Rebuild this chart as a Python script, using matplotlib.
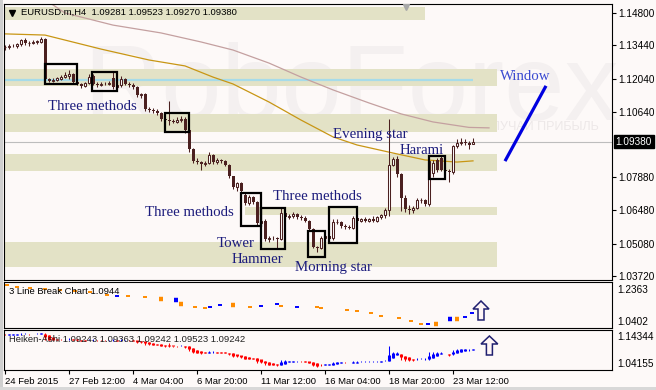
import matplotlib
matplotlib.use("Agg")
import matplotlib.pyplot as plt
import numpy as np
from matplotlib.patches import Rectangle, FancyArrow
from matplotlib.transforms import blended_transform_factory

plt.rcParams['font.family'] = ['Liberation Sans', 'DejaVu Sans']

# EURUSD H4 candles, 24 Feb 20:00 .. 23 Mar 2015
opens = [1.1335, 1.1338, 1.1342, 1.1340, 1.1348, 1.1366, 1.1352, 1.1355, 1.1358, 1.1358,
         1.1372, 1.1200, 1.1195, 1.1198, 1.1203, 1.1210, 1.1215, 1.1225, 1.1188, 1.1180,
         1.1172, 1.1185, 1.1215, 1.1182, 1.1178, 1.1182, 1.1180, 1.1205, 1.1168, 1.1178,
         1.1200, 1.1182, 1.1178, 1.1168, 1.1135, 1.1140, 1.1075, 1.1070, 1.1068, 1.1058,
         1.1032, 1.1030, 1.1025, 1.1022, 1.1030, 1.1035, 1.0985, 1.0905, 1.0858, 1.0852,
         1.0842, 1.0848, 1.0880, 1.0852, 1.0860, 1.0855, 1.0840, 1.0792, 1.0748, 1.0762,
         1.0715, 1.0678, 1.0705, 1.0682, 1.0595, 1.0605, 1.0527, 1.0532, 1.0530, 1.0528,
         1.0638, 1.0620, 1.0625, 1.0632, 1.0620, 1.0615, 1.0605, 1.0572, 1.0495, 1.0492,
         1.0530, 1.0540, 1.0530, 1.0598, 1.0600, 1.0582, 1.0578, 1.0575, 1.0615, 1.0605,
         1.0612, 1.0605, 1.0614, 1.0605, 1.0620, 1.0628, 1.0650, 1.0840, 1.0865, 1.0800,
         1.0700, 1.0655, 1.0648, 1.0660, 1.0692, 1.0694, 1.0675, 1.0805, 1.0862, 1.0870,
         1.0820, 1.0815, 1.0810, 1.0920, 1.0932, 1.0938, 1.0932, 1.0928]
highs = [1.1345, 1.1348, 1.1350, 1.1352, 1.1372, 1.1375, 1.1362, 1.1365, 1.1368, 1.1378,
         1.1376, 1.1208, 1.1205, 1.1212, 1.1220, 1.1232, 1.1240, 1.1228, 1.1195, 1.1185,
         1.1190, 1.1222, 1.1225, 1.1190, 1.1188, 1.1190, 1.1192, 1.1232, 1.1190, 1.1215,
         1.1205, 1.1190, 1.1185, 1.1172, 1.1145, 1.1145, 1.1085, 1.1080, 1.1075, 1.1062,
         1.1040, 1.1110, 1.1035, 1.1040, 1.1048, 1.1040, 1.0990, 1.0910, 1.0868, 1.0858,
         1.0855, 1.0895, 1.0885, 1.0868, 1.0865, 1.0860, 1.0842, 1.0795, 1.0770, 1.0768,
         1.0722, 1.0712, 1.0710, 1.0688, 1.0612, 1.0610, 1.0540, 1.0542, 1.0538, 1.0660,
         1.0645, 1.0632, 1.0640, 1.0636, 1.0630, 1.0625, 1.0608, 1.0575, 1.0500, 1.0540,
         1.0548, 1.0545, 1.0610, 1.0610, 1.0605, 1.0590, 1.0585, 1.0625, 1.0625, 1.0618,
         1.0620, 1.0618, 1.0625, 1.0625, 1.0635, 1.0660, 1.1035, 1.0875, 1.0878, 1.0805,
         1.0712, 1.0672, 1.0668, 1.0700, 1.0700, 1.0698, 1.0865, 1.0860, 1.0868, 1.0880,
         1.0830, 1.0822, 1.0925, 1.0950, 1.0955, 1.0950, 1.0940, 1.0952]
lows = [1.1325, 1.1330, 1.1335, 1.1333, 1.1340, 1.1345, 1.1340, 1.1348, 1.1350, 1.1352,
        1.1185, 1.1188, 1.1190, 1.1192, 1.1198, 1.1205, 1.1200, 1.1180, 1.1175, 1.1165,
        1.1168, 1.1180, 1.1178, 1.1170, 1.1172, 1.1175, 1.1176, 1.1160, 1.1160, 1.1170,
        1.1175, 1.1170, 1.1160, 1.1125, 1.1120, 1.1065, 1.1062, 1.1060, 1.1052, 1.1025,
        1.1015, 1.1010, 1.1015, 1.1018, 1.1022, 1.0975, 1.0895, 1.0850, 1.0845, 1.0820,
        1.0835, 1.0842, 1.0845, 1.0845, 1.0848, 1.0835, 1.0785, 1.0740, 1.0728, 1.0722,
        1.0672, 1.0672, 1.0675, 1.0588, 1.0588, 1.0520, 1.0515, 1.0522, 1.0486, 1.0522,
        1.0612, 1.0610, 1.0615, 1.0612, 1.0608, 1.0598, 1.0565, 1.0488, 1.0475, 1.0485,
        1.0515, 1.0520, 1.0525, 1.0590, 1.0575, 1.0570, 1.0568, 1.0570, 1.0595, 1.0598,
        1.0600, 1.0598, 1.0600, 1.0600, 1.0612, 1.0618, 1.0625, 1.0835, 1.0790, 1.0645,
        1.0640, 1.0635, 1.0638, 1.0655, 1.0680, 1.0665, 1.0665, 1.0790, 1.0812, 1.0815,
        1.0808, 1.0770, 1.0800, 1.0912, 1.0925, 1.0925, 1.0905, 1.0927]
closes = [1.1338, 1.1342, 1.1340, 1.1348, 1.1366, 1.1352, 1.1355, 1.1358, 1.1360, 1.1372,
          1.1200, 1.1195, 1.1198, 1.1205, 1.1212, 1.1218, 1.1222, 1.1188, 1.1180, 1.1172,
          1.1185, 1.1210, 1.1182, 1.1178, 1.1182, 1.1180, 1.1185, 1.1168, 1.1178, 1.1200,
          1.1182, 1.1178, 1.1168, 1.1135, 1.1140, 1.1075, 1.1070, 1.1068, 1.1058, 1.1032,
          1.1030, 1.1025, 1.1022, 1.1030, 1.1035, 1.0985, 1.0905, 1.0858, 1.0852, 1.0842,
          1.0848, 1.0880, 1.0852, 1.0860, 1.0855, 1.0840, 1.0792, 1.0748, 1.0762, 1.0728,
          1.0678, 1.0705, 1.0682, 1.0595, 1.0605, 1.0527, 1.0532, 1.0530, 1.0528, 1.0638,
          1.0620, 1.0625, 1.0632, 1.0620, 1.0615, 1.0605, 1.0572, 1.0495, 1.0492, 1.0530,
          1.0540, 1.0528, 1.0598, 1.0600, 1.0582, 1.0578, 1.0575, 1.0615, 1.0605, 1.0612,
          1.0605, 1.0614, 1.0605, 1.0620, 1.0628, 1.0650, 1.0840, 1.0865, 1.0800, 1.0700,
          1.0655, 1.0648, 1.0660, 1.0692, 1.0694, 1.0675, 1.0855, 1.0850, 1.0818, 1.0820,
          1.0815, 1.0810, 1.0920, 1.0932, 1.0938, 1.0932, 1.0925, 1.0938]

# moving averages (read at a few bars)
ma_fast_bars = [0, 10, 24, 36, 45, 52, 57, 66, 74, 82, 88, 97, 105, 113, 117]
ma_fast_vals = [1.1392, 1.1387, 1.1328, 1.1282, 1.1257, 1.1210, 1.1181, 1.1105, 1.1029,
                1.0958, 1.0924, 1.0890, 1.0861, 1.0852, 1.0857]
ma_slow_bars = [8, 12, 15, 27, 39, 49, 57, 66, 74, 82, 91, 99, 107, 116, 121]
ma_slow_vals = [1.1545, 1.1514, 1.1480, 1.1429, 1.1396, 1.1358, 1.1324, 1.1269, 1.1210,
                1.1156, 1.1101, 1.1055, 1.1021, 1.0998, 1.0996]

# support / resistance zones
zone_start = [-0.25, -0.25, -0.25, -0.25, 60, -0.25]
zone_end = [105, 123, 123, 123, 123, 123]
zone_low = [1.1450, 1.1172, 1.0979, 1.0814, 1.0629, 1.0410]
zone_high = [1.1505, 1.1244, 1.1055, 1.0886, 1.0663, 1.0515]
level_blue = 1.1198
last_price = 1.0938

# pattern boxes
box_start = [9.9, 21.75, 40, 59, 64, 75.75, 81, 106]
box_end = [18, 28, 46, 64, 70, 80, 88, 110]
box_low = [1.1181, 1.1152, 1.0979, 1.0583, 1.0486, 1.0452, 1.0511, 1.0781]
box_high = [1.1265, 1.1232, 1.1059, 1.0722, 1.0659, 1.0562, 1.0663, 1.0877]

label_text = ["Three methods", "Three methods", "Three methods", "Tower", "Hammer",
              "Morning star", "Evening star", "Harami"]
label_bar = [10.75, 35, 67, 53, 56.75, 72.5, 82, 98.75]
label_price = [1.1071, 1.0625, 1.0692, 1.0494, 1.0427, 1.0393, 1.0953, 1.0886]

window_bars = [125, 135.25]
window_vals = [1.0856, 1.1173]

price_ticks = [1.1480, 1.1344, 1.1204, 1.1064, 1.0788, 1.0648, 1.0508, 1.0372]
date_ticks = [0, 16, 32, 48, 64, 80, 96, 112]
date_labels = ["24 Feb 2015", "27 Feb 12:00", "4 Mar 04:00", "6 Mar 20:00",
               "11 Mar 12:00", "16 Mar 04:00", "18 Mar 20:00", "23 Mar 12:00"]

# 3 line break bricks
lb_bars = [0.5, 3, 6.25, 10, 13.75, 17.5, 21.25, 25.5, 28, 30.75, 35, 39, 42.75, 44,
           47.5, 50, 51.25, 53.75, 57, 61.25, 64, 68, 69, 73, 78, 79, 85.5, 88, 91.5,
           94, 98.5, 101.5, 104, 105.75, 107.75, 111.25, 113, 115, 116.75]
lb_vals = [1.2338, 1.2240, 1.2191, 1.2142, 1.2093, 1.2044, 1.1995, 1.1848, 1.1800, 1.1800,
           1.1750, 1.1652, 1.1603, 1.1408, 1.1261, 1.1212, 1.1261, 1.1359, 1.1359, 1.1261,
           1.1310, 1.1408, 1.1310, 1.1261, 1.1261, 1.1212, 1.1115, 1.1066, 1.0968, 1.0821,
           1.0723, 1.0576, 1.0402, 1.0402, 1.0402, 1.0674, 1.0674, 1.0772, 1.0944]
lb_up = [0, 0, 0, 0, 0, 0, 0, 0, 1, 0, 0, 0, 1, 0, 0, 0, 1, 1, 0, 0,
         1, 1, 0, 1, 0, 0, 0, 0, 0, 0, 0, 0, 0, 1, 0, 1, 0, 1, 1]
lb_block = [0, 0, 0, 0, 0, 0, 0, 0, 0, 0, 0, 1, 1, 1, 0, 0, 0, 0, 1, 0,
            0, 0, 0, 0, 0, 0, 0, 0, 0, 0, 0, 0, 0, 0, 1, 1, 1, 0, 0]

BG = "#fdf9f8"
CANDLE = "#4b2020"
ZONE = "#e3e2c6"
NAVY = "#1c1c7c"
SERIF = ["Liberation Serif", "DejaVu Serif"]

W, H = 656, 390
fig = plt.figure(figsize=(W / 100, H / 100), dpi=100, facecolor=BG)


def px_axes(x0, y0, x1, y1):
    a = fig.add_axes([x0 / W, 1 - y1 / H, (x1 - x0) / W, (y1 - y0) / H])
    a.set_facecolor(BG)
    for s in a.spines.values():
        s.set_linewidth(0.8)
        s.set_color("black")
    a.set_xlim(-0.25, 151.75)
    return a


ax = px_axes(4, 4, 612, 280)
ax_lb = px_axes(4, 282, 612, 328)
ax_ha = px_axes(4, 330, 612, 370)
ax.set_ylim(1.03551, 1.15179)
ax_lb.set_ylim(1.0230, 1.2486)
ax_ha.set_ylim(1.03888, 1.14612)

# frame bits
fig.add_artist(Rectangle((0, 0), 3 / W, 1, transform=fig.transFigure, color="#cfcfcf", lw=0))
fig.add_artist(Rectangle((0, 0), 1, 3 / H, transform=fig.transFigure, color="#d8d8d8", lw=0))

# watermark
ax.text(0.13, 0.58, "RoboForex", transform=ax.transAxes, fontsize=78, color="#f4f0f0",
        va="baseline", ha="left", zorder=0.2)
ax.text(0.516, 0.543, "ИСПОЛЬЗУЙ РОБОТОВ – ПОЛУЧАЙ ПРИБЫЛЬ", transform=ax.transAxes,
        fontsize=9, color="#ede8e8", va="baseline", ha="left", zorder=0.2)

# zones
for x0, x1, lo, hi in zip(zone_start, zone_end, zone_low, zone_high):
    ax.add_patch(Rectangle((x0, lo), x1 - x0, hi - lo, color=ZONE, lw=0, zorder=0.5))
ax.hlines(level_blue, -0.25, len(closes) - 1, color="#a6dbe9", lw=1.6, zorder=0.8)
ax.axhline(last_price, color="#bdbdbd", lw=0.8, zorder=0.9)

# moving averages
ax.plot(ma_slow_bars, ma_slow_vals, color="#c4a0a0", lw=0.9, zorder=1)
ax.plot(ma_fast_bars, ma_fast_vals, color="#c89614", lw=0.9, zorder=1)

# candles
x = np.arange(len(closes))
o, h, l, c = (np.array(v) for v in (opens, highs, lows, closes))
up = c >= o
ax.vlines(x, l, h, color=CANDLE, lw=0.75, zorder=3)
ax.bar(x[~up], (o - c)[~up], bottom=c[~up], width=0.75, color=CANDLE, lw=0, zorder=3)
ax.bar(x[up], np.maximum((c - o)[up], 0.0001), bottom=o[up], width=0.5,
       facecolor="white", edgecolor=CANDLE, lw=0.75, zorder=3.5)

# pattern boxes and labels
for x0, x1, lo, hi in zip(box_start, box_end, box_low, box_high):
    ax.add_patch(Rectangle((x0, lo), x1 - x0, hi - lo, fill=False, edgecolor="black",
                           lw=1.6, zorder=4))
for t, bx, py in zip(label_text, label_bar, label_price):
    ax.text(bx, py, t, family=SERIF, fontsize=10.7, color=NAVY, va="baseline", ha="left",
            zorder=6)
ax.plot(window_bars, window_vals, color="#0000e0", lw=2.3, solid_capstyle="butt", zorder=5)
ax.text(123.75, 1.1198, "Window", family=SERIF, fontsize=10.7, color="#3a4ad0",
        va="baseline", ha="left", zorder=6)

# price axis
ax.yaxis.tick_right()
ax.set_yticks(price_ticks)
ax.set_yticklabels([f"{v:.5f}" for v in price_ticks])
ax.tick_params(axis="y", direction="out", length=3, width=0.8, pad=1.5, labelsize=7.2)
ax.set_xticks([])
tr = blended_transform_factory(ax.transAxes, ax.transData)
ax.text(1.006, last_price, f"{last_price:.5f}", transform=tr, color="white", fontsize=7.2,
        va="center", ha="left", bbox=dict(facecolor="black", edgecolor="black", pad=1.2),
        zorder=7)

ax.text(0.028, 0.971, "EURUSD.m,H4  1.09281 1.09523 1.09270 1.09380", transform=ax.transAxes,
        fontsize=6.8, color="black", va="center", ha="left", zorder=7)
ax.plot([0.013], [0.968], marker="v", ms=4.5, color="black", transform=ax.transAxes,
        clip_on=False, zorder=7)
ax.plot([100.3], [1.1507], marker="v", ms=4, color="#a8a8a8", zorder=7)

# 3 line break panel
lb_b = np.array(lb_bars)
lb_v = np.array(lb_vals)
lb_col = ["#0000ff" if u else "#ff8c00" for u in lb_up]
lb_lw = [3.2 if b else 1.4 for b in lb_block]
ax_lb.hlines(lb_v, lb_b - 0.6, lb_b + 0.6, colors=lb_col, lw=lb_lw)
ax_lb.add_patch(FancyArrow(119, 1.0623, 0, 0.0931, width=1.5, head_width=4.0,
                           head_length=0.0392, length_includes_head=True,
                           facecolor="#fff6f6", edgecolor="#202070", lw=1.1, zorder=5))
ax_lb.set_xticks([])
ax_lb.set_yticks([])
ax_lb.text(0.008, 0.804, "3 Line Break Chart 1.0944", transform=ax_lb.transAxes,
           fontsize=6.8, va="center", ha="left")
ax_lb.text(1.008, 0.826, "1.2363", transform=ax_lb.transAxes, fontsize=7.2, va="center")
ax_lb.text(1.008, 0.13, "1.0402", transform=ax_lb.transAxes, fontsize=7.2, va="center")

# Heiken Ashi panel
ha_c = (o + h + l + c) / 4
ha_o = np.empty_like(ha_c)
ha_o[0] = (o[0] + c[0]) / 2
for i in range(1, len(ha_c)):
    ha_o[i] = (ha_o[i - 1] + ha_c[i - 1]) / 2
ha_h = np.maximum.reduce([h, ha_o, ha_c])
ha_l = np.minimum.reduce([l, ha_o, ha_c])
ha_col = np.where(ha_c >= ha_o, "#0000ff", "#ff0000")
ax_ha.vlines(x, ha_l, ha_h, colors=ha_col, lw=0.75)
ax_ha.vlines(x, np.minimum(ha_o, ha_c), np.maximum(ha_o, ha_c) + 0.0004, colors=ha_col, lw=2.2)
ax_ha.add_patch(FancyArrow(121.1, 1.0791, 0, 0.0509, width=1.5, head_width=4.2,
                           head_length=0.0214, length_includes_head=True,
                           facecolor="#fff6f6", edgecolor="#202070", lw=1.1, zorder=5))
ax_ha.set_yticks([])
ax_ha.text(0.008, 0.775, "Heiken-Ashi 1.09243 1.09363 1.09242 1.09523 1.09242",
           transform=ax_ha.transAxes, fontsize=6.8, va="center", ha="left", color="#222222")
ax_ha.text(1.008, 0.825, "1.14344", transform=ax_ha.transAxes, fontsize=7.2, va="center")
ax_ha.text(1.008, 0.15, "1.04155", transform=ax_ha.transAxes, fontsize=7.2, va="center")
ax_ha.set_xticks(date_ticks)
ax_ha.set_xticklabels(date_labels, ha="left")
ax_ha.tick_params(axis="x", direction="out", length=3, width=0.8, pad=2, labelsize=6.8)

fig.savefig("out.png", dpi=100, facecolor=BG)
